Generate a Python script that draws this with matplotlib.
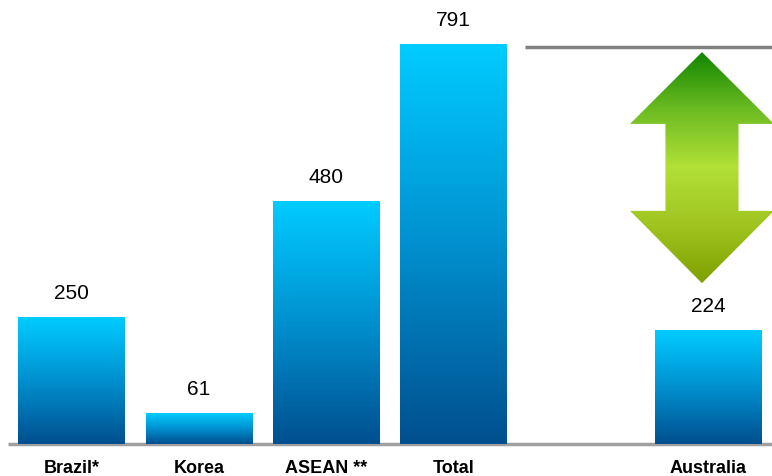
import numpy as np
import matplotlib.pyplot as plt
from matplotlib.patches import Polygon
from matplotlib.colors import LinearSegmentedColormap

categories = ['Brazil*', 'Korea', 'ASEAN **', 'Total', 'Australia']
positions = [0, 1, 2, 3, 5]
values = [250, 61, 480, 791, 224]

bar_cmap = LinearSegmentedColormap.from_list('bars', ['#004f8e', '#0090cf', '#00ccff'])
arrow_cmap = LinearSegmentedColormap.from_list(
    'arrow', ['#7ea000', '#a0c520', '#b2e037', '#6cbb22', '#108500'])

fig = plt.figure(figsize=(7.72, 4.77), dpi=100)
ax = fig.add_axes([0, 0, 1, 1])
ax.axis('off')

width = 0.833
grad = np.linspace(0, 1, 256).reshape(-1, 1)

for x, v, name in zip(positions, values, categories):
    ax.imshow(grad, cmap=bar_cmap, origin='lower', aspect='auto',
              extent=[x - width / 2, x + width / 2, 0, v], zorder=2)
    ax.annotate(str(v), (x, v), xytext=(0, 11), textcoords='offset points',
                ha='center', va='bottom', fontsize=15, family='Liberation Sans')
    ax.text(x, -47, name, ha='center', va='center', fontsize=13,
            fontweight='bold', family='Liberation Sans')

# baseline and the reference line at the total
ax.plot([-0.5, 5.6], [0, 0], color='#a0a0a0', lw=2.5, zorder=1, solid_capstyle='butt')
ax.plot([3.56, 5.6], [values[3] - 5, values[3] - 5], color='#808080', lw=2.5, zorder=1,
        solid_capstyle='butt')

# double-headed gap arrow with a vertical gradient
cx, hw, sw = 4.953, 0.565, 0.287
y_top, y_hb, y_lb, y_bot = 775, 633, 461, 318
pts = [(cx, y_top), (cx + hw, y_hb), (cx + sw, y_hb), (cx + sw, y_lb),
       (cx + hw, y_lb), (cx, y_bot), (cx - hw, y_lb), (cx - sw, y_lb),
       (cx - sw, y_hb), (cx - hw, y_hb)]
arrow = Polygon(pts, closed=True, facecolor='none', edgecolor='none')
ax.add_patch(arrow)
img = ax.imshow(grad, cmap=arrow_cmap, origin='lower', aspect='auto',
                extent=[cx - hw, cx + hw, y_bot, y_top], zorder=3)
img.set_clip_path(arrow)

ax.set_xlim(-0.5617, 5.503)
ax.set_ylim(-63.3, 880)
fig.savefig('out.png', dpi=100)
